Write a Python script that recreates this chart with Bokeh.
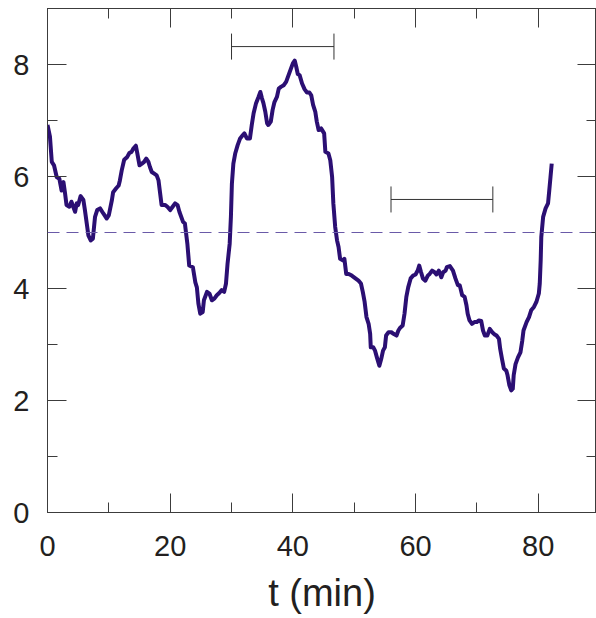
from bokeh.plotting import figure
from bokeh.models import (LinearAxis, FixedTicker, Range1d, Span,
                          Whisker, ColumnDataSource, TeeHead)
from bokeh.embed import file_html
from bokeh.resources import INLINE

# ---- data ----
t_min = [0, 0.4, 0.7, 1.06, 1.5, 1.93, 2.3, 2.6, 2.86, 3.1, 3.56, 3.9, 4.2, 4.5, 4.76, 5.0,
         5.4, 5.85, 6.1, 6.4, 6.66, 7.05, 7.4, 7.75, 8.1, 8.57, 9.1, 9.66, 10.0, 10.5, 10.7,
         11.2, 11.6, 11.8, 12.1, 12.5, 13.0, 13.35, 13.7, 14.0, 14.4, 14.65, 15.0, 15.4,
         15.75, 16.1, 16.45, 16.7, 17.0, 17.4, 17.8, 18.1, 18.36, 18.6, 19.2, 19.55, 20.0,
         20.4, 20.8, 21.2, 21.5,
         22.1, 22.4, 22.8, 23.1, 23.7, 24.1, 24.35, 24.6, 24.9, 25.3, 25.5, 26.0, 26.4, 26.8,
         27.2, 27.6, 28.0, 28.4, 28.8, 29.1, 29.35, 29.7, 29.9, 30.06, 30.3, 30.6, 31.0, 31.4,
         31.85, 32.1, 32.5, 33.0, 33.3, 33.6, 34.0, 34.4, 34.7, 34.95, 35.2, 35.5, 35.8, 36.0,
         36.4, 36.7, 37.0, 37.4, 37.7, 38.05, 38.5, 38.9, 39.3, 39.7, 40.0, 40.3, 40.55, 40.8,
         41.1, 41.5, 41.9, 42.3, 42.7, 43.0, 43.3, 43.65, 43.9, 44.2,
         44.6, 45.1, 45.3, 45.8, 46.1, 46.4, 46.6, 46.9, 47.2, 47.45, 47.7, 48.2, 48.4, 48.7,
         49.1, 49.6, 50.2, 50.7, 51.1, 51.4, 51.7, 52.0, 52.35, 52.6, 52.7, 53.1, 53.4, 53.7,
         54.1, 54.4, 54.7, 55.0, 55.2, 55.6, 56.05, 56.4, 56.9, 57.2, 57.5, 57.9, 58.2, 58.5,
         58.8, 59.2, 59.6, 60.0, 60.35, 60.6, 60.9, 61.2, 61.6, 62.0, 62.3, 62.7, 63.1, 63.4,
         63.8, 64.2, 64.5, 64.9, 65.1, 65.6,
         66.1, 66.5, 66.9, 67.2, 67.6, 68.0, 68.3, 68.5, 68.8, 69.2, 69.6, 70.0, 70.3, 70.7,
         71.0, 71.3, 71.7, 72.1, 72.5, 72.9, 73.2, 73.6, 73.8, 74.1, 74.4, 74.8, 75.0, 75.3,
         75.6, 75.85, 76.0, 76.3, 76.7, 77.1, 77.4, 77.6, 78.1, 78.5, 78.85, 79.3, 79.7, 80.1,
         80.25, 80.4, 80.5, 80.8, 81.2, 81.6, 81.8, 82.0, 82.2]
signal = [6.92, 6.71, 6.26, 6.20, 5.99, 5.96, 5.75, 5.90, 5.70, 5.49, 5.46, 5.55, 5.46, 5.37,
          5.52, 5.49, 5.65, 5.58, 5.40, 5.16, 4.95, 4.86, 4.89, 5.28, 5.40, 5.43, 5.34, 5.25,
          5.31, 5.58, 5.72, 5.79, 5.84, 5.93, 6.11, 6.30, 6.35, 6.42, 6.44, 6.50, 6.55, 6.41,
          6.20, 6.23, 6.26, 6.32, 6.26, 6.17, 6.08, 6.05, 6.02, 5.93, 5.70, 5.49, 5.49, 5.46,
          5.40, 5.46, 5.52, 5.49, 5.37,
          5.19, 5.16, 4.80, 4.41, 4.38, 4.11, 4.02, 3.73, 3.55, 3.58, 3.79, 3.94, 3.91, 3.79,
          3.82, 3.88, 3.92, 3.97, 3.94, 4.09, 4.44, 4.80, 5.28, 5.87, 6.23, 6.41, 6.56, 6.68,
          6.74, 6.77, 6.68, 6.68, 6.92, 7.13, 7.31, 7.42, 7.51, 7.40, 7.31, 7.16, 6.95, 6.92,
          6.98, 7.19, 7.33, 7.42, 7.57, 7.60, 7.63, 7.69, 7.81, 7.93, 8.02, 8.07, 7.96, 7.83,
          7.81, 7.66, 7.56, 7.50, 7.50, 7.45, 7.28, 7.16, 6.98, 6.83,
          6.86, 6.77, 6.44, 6.41, 6.29, 5.99, 5.52, 5.10, 4.86, 4.74, 4.53, 4.50, 4.53, 4.26,
          4.26, 4.23, 4.18, 4.14, 4.09, 3.94, 3.76, 3.49, 3.37, 3.19, 2.95, 2.95, 2.89, 2.77,
          2.62, 2.74, 2.89, 2.95, 3.16, 3.22, 3.22, 3.19, 3.16, 3.25, 3.30, 3.34, 3.55, 3.85,
          4.02, 4.18, 4.23, 4.25, 4.32, 4.41, 4.29, 4.18, 4.14, 4.23, 4.26, 4.32, 4.29, 4.25,
          4.32, 4.20, 4.29, 4.32, 4.38, 4.40,
          4.32, 4.18, 4.06, 4.06, 3.88, 3.85, 3.70, 3.55, 3.43, 3.37, 3.40, 3.40, 3.43, 3.42,
          3.25, 3.16, 3.16, 3.28, 3.22, 3.18, 3.16, 3.10, 2.92, 2.74, 2.57, 2.53, 2.45, 2.27,
          2.18, 2.21, 2.45, 2.65, 2.77, 2.86, 3.07, 3.25, 3.40, 3.49, 3.61, 3.67, 3.76, 3.91,
          4.09, 4.50, 4.92, 5.28, 5.43, 5.52, 5.75, 5.99, 6.23]

threshold = 5.0
bar_level = [8.32, 5.59]
bar_start = [30.0, 56.0]
bar_end = [46.7, 72.6]

x_major = [0, 20, 40, 60, 80]
x_minor = [10, 30, 50, 70, 90]
y_major = [0, 2, 4, 6, 8]
y_minor = [1, 3, 5, 7, 9]

FONT = "Liberation Sans"
INK = "#231f20"
AXC = "#3c3c3c"
LINE = "#2b0f73"

p = figure(width=596, height=618, output_backend="svg", toolbar_location=None,
           x_range=Range1d(0, 89.5), y_range=Range1d(0, 9.0),
           min_border_left=47, min_border_right=0, min_border_top=8, min_border_bottom=106,
           background_fill_color="white", border_fill_color="white")
p.outline_line_color = AXC
p.outline_line_width = 1
p.xgrid.visible = False
p.ygrid.visible = False


def style_ticks(ax):
    ax.axis_line_color = AXC
    ax.major_tick_line_color = AXC
    ax.minor_tick_line_color = AXC
    ax.major_tick_in = 19
    ax.major_tick_out = 0
    ax.minor_tick_in = 10
    ax.minor_tick_out = 0


xa = p.xaxis[0]
xa.ticker = FixedTicker(ticks=x_major, minor_ticks=x_minor)
style_ticks(xa)
xa.major_label_text_font = FONT
xa.major_label_text_font_size = "29px"
xa.major_label_text_color = INK
xa.major_label_standoff = 23
xa.axis_label = "t (min)"
xa.axis_label_text_font = FONT
xa.axis_label_text_font_size = "38px"
xa.axis_label_text_font_style = "normal"
xa.axis_label_text_color = INK
xa.axis_label_standoff = 13

ya = p.yaxis[0]
ya.ticker = FixedTicker(ticks=y_major, minor_ticks=y_minor)
style_ticks(ya)
ya.major_label_text_font = FONT
ya.major_label_text_font_size = "29px"
ya.major_label_text_color = INK
ya.major_label_standoff = 18


def mirror_axis(side, majors, minors):
    # label-free mirror ticks: majors and minors drawn as "minor" ticks of two axes
    a1 = LinearAxis(ticker=FixedTicker(ticks=[], minor_ticks=majors))
    style_ticks(a1)
    a1.minor_tick_in = 19
    a2 = LinearAxis(ticker=FixedTicker(ticks=[], minor_ticks=minors))
    style_ticks(a2)
    p.add_layout(a1, side)
    p.add_layout(a2, side)


mirror_axis("above", x_major, x_minor)
mirror_axis("right", y_major, y_minor)

# threshold dashed line
p.add_layout(Span(location=threshold, dimension="width", line_color="#6a5aa8",
                  line_width=1.2, line_dash="12 7"))

# horizontal bars with end caps
bars = ColumnDataSource(dict(base=bar_level, lower=bar_start, upper=bar_end))
p.add_layout(Whisker(source=bars, base="base", lower="lower", upper="upper",
                     dimension="width", line_color="#333333", line_width=1,
                     lower_head=TeeHead(size=26, line_color="#333333", line_width=1),
                     upper_head=TeeHead(size=26, line_color="#333333", line_width=1)))

p.line(t_min, signal, line_color=LINE, line_width=4, line_join="round")

open("out.html", "w").write(file_html(p, INLINE))
